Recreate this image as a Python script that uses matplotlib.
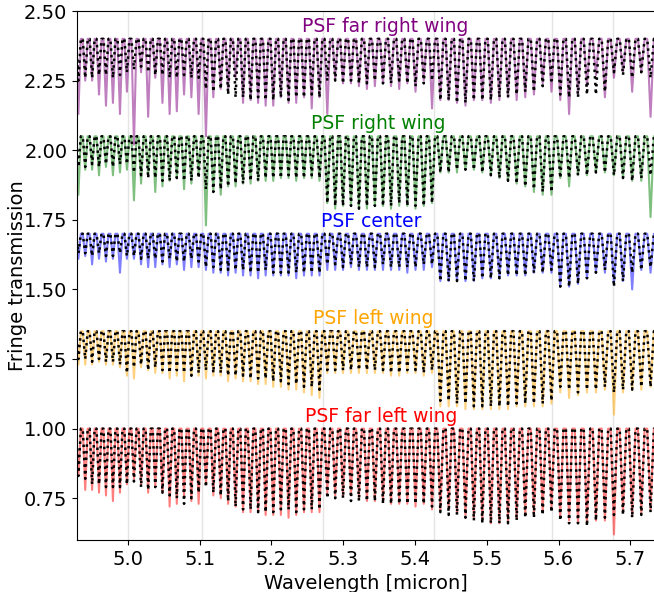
import numpy as np
import matplotlib
matplotlib.use('Agg')
import matplotlib.pyplot as plt

# fringe minima positions [micron]
lam_dips = [4.9310, 4.9405, 4.9501, 4.9597, 4.9694, 4.9791, 4.9889, 4.9986,
            5.0084, 5.0183, 5.0282, 5.0381, 5.0481, 5.0581, 5.0681, 5.0782, 5.0884, 5.0985,
            5.1087, 5.1190, 5.1293, 5.1396, 5.1500, 5.1604, 5.1709, 5.1814, 5.1919, 5.2025,
            5.2131, 5.2238, 5.2345, 5.2453, 5.2561, 5.2669,
            5.2778, 5.2888, 5.2997, 5.3108, 5.3219, 5.3330, 5.3441, 5.3554, 5.3666, 5.3780,
            5.3893, 5.4007, 5.4122, 5.4237,
            5.4353, 5.4469, 5.4585, 5.4703, 5.4820, 5.4938, 5.5057, 5.5176, 5.5296, 5.5416,
            5.5536, 5.5657, 5.5779, 5.5901,
            5.6024, 5.6147, 5.6271, 5.6396, 5.6521, 5.6646,
            5.6772, 5.6898, 5.7026, 5.7153, 5.7282, 5.7411]

# order boundaries (grey vertical lines)
order_edges = [5.0, 5.103, 5.272, 5.427, 5.591, 5.676]

# dip transmission values, model (m) and measured (d)
m_far_right = [0.85, 0.86, 0.86, 0.87, 0.87, 0.86, 0.87, 0.88,
               0.89, 0.90, 0.88, 0.87, 0.87, 0.86, 0.86, 0.87, 0.86, 0.86,
               0.82, 0.81, 0.82, 0.80, 0.79, 0.79, 0.78, 0.79, 0.78, 0.78, 0.79, 0.78, 0.79, 0.79, 0.80, 0.79,
               0.85, 0.85, 0.84, 0.85, 0.84, 0.84, 0.85, 0.84, 0.84, 0.85, 0.84, 0.83, 0.84, 0.85,
               0.78, 0.78, 0.77, 0.77, 0.78, 0.78, 0.78, 0.79, 0.79, 0.80, 0.81, 0.81, 0.83, 0.85,
               0.80, 0.79, 0.79, 0.80, 0.80, 0.81,
               0.88, 0.87, 0.86, 0.88, 0.86, 0.87]
d_far_right = [0.73, 0.85, 0.85, 0.80, 0.76, 0.77, 0.73, 0.81,
               0.62, 0.88, 0.72, 0.86, 0.77, 0.73, 0.74, 0.80, 0.79, 0.73,
               0.65, 0.79, 0.82, 0.81, 0.86, 0.77, 0.78, 0.77, 0.76, 0.76, 0.79, 0.77, 0.77, 0.79, 0.75, 0.79,
               0.73, 0.86, 0.84, 0.84, 0.83, 0.82, 0.83, 0.84, 0.83, 0.82, 0.84, 0.81, 0.85, 0.75,
               0.78, 0.78, 0.77, 0.76, 0.78, 0.78, 0.77, 0.78, 0.79, 0.78, 0.79, 0.80, 0.84, 0.81,
               0.78, 0.73, 0.80, 0.83, 0.87, 0.79,
               0.86, 0.88, 0.81, 0.88, 0.72, 0.86]

m_right = [0.89, 0.89, 0.90, 0.89, 0.90, 0.89, 0.90, 0.90,
           0.87, 0.86, 0.85, 0.85, 0.84, 0.84, 0.85, 0.84, 0.84, 0.85,
           0.81, 0.80, 0.81, 0.82, 0.83, 0.83, 0.84, 0.84, 0.85, 0.85, 0.85, 0.86, 0.85, 0.85, 0.86, 0.85,
           0.76, 0.75, 0.75, 0.75, 0.74, 0.75, 0.75, 0.75, 0.75, 0.76, 0.75, 0.75, 0.75, 0.76,
           0.87, 0.87, 0.88, 0.88, 0.88, 0.87, 0.86, 0.85, 0.84, 0.83, 0.82, 0.81, 0.80, 0.80,
           0.85, 0.85, 0.86, 0.86, 0.87, 0.87,
           0.86, 0.85, 0.84, 0.85, 0.86, 0.86]
d_right = [0.79, 0.88, 0.88, 0.86, 0.89, 0.86, 0.87, 0.88,
           0.77, 0.83, 0.86, 0.80, 0.82, 0.84, 0.85, 0.81, 0.83, 0.86,
           0.68, 0.80, 0.79, 0.82, 0.82, 0.83, 0.83, 0.84, 0.84, 0.84, 0.85, 0.85, 0.84, 0.85, 0.85, 0.84,
           0.76, 0.74, 0.75, 0.75, 0.74, 0.74, 0.75, 0.75, 0.74, 0.75, 0.75, 0.74, 0.75, 0.76,
           0.87, 0.87, 0.87, 0.88, 0.88, 0.87, 0.86, 0.85, 0.84, 0.83, 0.82, 0.80, 0.79, 0.79,
           0.85, 0.82, 0.86, 0.86, 0.87, 0.87,
           0.86, 0.85, 0.84, 0.84, 0.71, 0.86]

m_center = [0.93, 0.93, 0.92, 0.93, 0.92, 0.92, 0.93, 0.92,
            0.92, 0.91, 0.91, 0.91, 0.90, 0.91, 0.90, 0.90, 0.91, 0.90,
            0.88, 0.88, 0.87, 0.87, 0.87, 0.87, 0.86, 0.86, 0.87, 0.86, 0.86, 0.86, 0.86, 0.86, 0.86, 0.86,
            0.89, 0.89, 0.88, 0.89, 0.88, 0.88, 0.88, 0.89, 0.88, 0.88, 0.88, 0.88, 0.89, 0.89,
            0.83, 0.83, 0.83, 0.83, 0.83, 0.84, 0.84, 0.84, 0.85, 0.85, 0.85, 0.86, 0.86, 0.87,
            0.81, 0.81, 0.82, 0.84, 0.86, 0.87,
            0.81, 0.83, 0.86, 0.87, 0.88, 0.88]
d_center = [0.91, 0.92, 0.89, 0.91, 0.90, 0.91, 0.86, 0.91,
            0.91, 0.89, 0.88, 0.88, 0.89, 0.88, 0.89, 0.87, 0.88, 0.88,
            0.87, 0.86, 0.86, 0.85, 0.86, 0.85, 0.85, 0.84, 0.85, 0.85, 0.85, 0.85, 0.84, 0.85, 0.85, 0.85,
            0.87, 0.87, 0.87, 0.88, 0.87, 0.87, 0.87, 0.87, 0.87, 0.87, 0.86, 0.87, 0.87, 0.88,
            0.83, 0.83, 0.83, 0.83, 0.83, 0.84, 0.84, 0.84, 0.85, 0.85, 0.85, 0.86, 0.86, 0.86,
            0.81, 0.81, 0.82, 0.84, 0.86, 0.86,
            0.82, 0.83, 0.80, 0.87, 0.86, 0.88]

m_left = [0.90, 0.90, 0.89, 0.90, 0.89, 0.89, 0.88, 0.85,
          0.87, 0.88, 0.86, 0.87, 0.86, 0.85, 0.86, 0.85, 0.84, 0.85,
          0.86, 0.85, 0.85, 0.84, 0.84, 0.84, 0.83, 0.83, 0.83, 0.82, 0.82, 0.81, 0.81, 0.80, 0.80, 0.79,
          0.86, 0.86, 0.86, 0.86, 0.86, 0.86, 0.86, 0.86, 0.85, 0.85, 0.86, 0.86, 0.85, 0.86,
          0.75, 0.75, 0.74, 0.74, 0.73, 0.73, 0.73, 0.73, 0.73, 0.74, 0.74, 0.74, 0.74, 0.75,
          0.80, 0.79, 0.78, 0.79, 0.79, 0.80,
          0.78, 0.79, 0.79, 0.80, 0.80, 0.80]
d_left = [0.88, 0.88, 0.88, 0.89, 0.88, 0.88, 0.87, 0.84,
          0.83, 0.87, 0.86, 0.85, 0.85, 0.83, 0.84, 0.82, 0.84, 0.84,
          0.83, 0.84, 0.84, 0.82, 0.83, 0.82, 0.82, 0.81, 0.81, 0.80, 0.80, 0.79, 0.79, 0.78, 0.77, 0.76,
          0.85, 0.85, 0.85, 0.85, 0.85, 0.85, 0.85, 0.85, 0.84, 0.84, 0.85, 0.85, 0.84, 0.85,
          0.73, 0.73, 0.73, 0.72, 0.72, 0.72, 0.72, 0.72, 0.72, 0.73, 0.73, 0.73, 0.73, 0.74,
          0.78, 0.76, 0.77, 0.78, 0.78, 0.79,
          0.70, 0.78, 0.79, 0.79, 0.80, 0.80]

m_far_left = [0.83, 0.82, 0.80, 0.80, 0.79, 0.79, 0.79, 0.80,
              0.81, 0.79, 0.78, 0.79, 0.77, 0.76, 0.75, 0.73, 0.75, 0.77,
              0.79, 0.77, 0.76, 0.74, 0.72, 0.71, 0.71, 0.70, 0.70, 0.70, 0.71, 0.71, 0.70, 0.71, 0.71, 0.71,
              0.75, 0.75, 0.75, 0.74, 0.74, 0.74, 0.74, 0.73, 0.73, 0.73, 0.73, 0.73, 0.73, 0.72,
              0.70, 0.69, 0.69, 0.68, 0.67, 0.66, 0.66, 0.66, 0.66, 0.67, 0.68, 0.68, 0.69, 0.70,
              0.67, 0.66, 0.66, 0.65, 0.67, 0.68,
              0.69, 0.69, 0.68, 0.69, 0.70, 0.70]
d_far_left = [0.83, 0.78, 0.78, 0.77, 0.76, 0.74, 0.77, 0.80,
              0.82, 0.80, 0.77, 0.79, 0.77, 0.72, 0.73, 0.76, 0.74, 0.73,
              0.80, 0.76, 0.75, 0.73, 0.72, 0.70, 0.70, 0.70, 0.69, 0.69, 0.69, 0.68, 0.69, 0.70, 0.70, 0.70,
              0.77, 0.76, 0.76, 0.76, 0.75, 0.74, 0.74, 0.74, 0.73, 0.73, 0.73, 0.72, 0.73, 0.71,
              0.71, 0.71, 0.70, 0.69, 0.68, 0.67, 0.66, 0.66, 0.67, 0.68, 0.69, 0.69, 0.70, 0.72,
              0.68, 0.67, 0.66, 0.66, 0.67, 0.67,
              0.62, 0.70, 0.69, 0.70, 0.71, 0.70]

labels = ['PSF far right wing', 'PSF right wing', 'PSF center', 'PSF left wing', 'PSF far left wing']
label_x = [5.358, 5.349, 5.339, 5.342, 5.353]
colors = ['purple', 'green', 'blue', 'orange', 'red']
offsets = [1.4, 1.05, 0.7, 0.35, 0.0]
models = [m_far_right, m_right, m_center, m_left, m_far_left]
datas = [d_far_right, d_right, d_center, d_left, d_far_left]


def fringe_curve(lam, dips, frac=0.36):
    # each minimum is a narrow V, flat at T=1 between minima
    lam = np.asarray(lam)
    step = np.gradient(lam)
    x = np.column_stack([lam - frac * step, lam, lam + frac * step]).ravel()
    y = np.column_stack([np.ones(len(lam)), dips, np.ones(len(lam))]).ravel()
    return x, y


fig = plt.figure(figsize=(6.54, 5.92), dpi=100)
ax = fig.add_axes([0.1177, 0.0878, 0.8823, 0.8936])

for e in order_edges:
    ax.axvline(e, color='lightgray', lw=1, alpha=0.6, zorder=0)

for lab, lx, col, off, m, d in zip(labels, label_x, colors, offsets, models, datas):
    x, y = fringe_curve(lam_dips, d)
    ax.plot(x, y + off, '-', color=col, alpha=0.5, lw=1.5)
    x, y = fringe_curve(lam_dips, m)
    ax.plot(x, y + off, ':', color='k', lw=1.8)
    ax.text(lx, off + 1.045, lab, color=col, fontsize=13.5, ha='center', va='center')

ax.set_xlim(4.929, 5.733)
ax.set_ylim(0.6, 2.5)
ax.set_xticks([5.0, 5.1, 5.2, 5.3, 5.4, 5.5, 5.6, 5.7])
ax.set_yticks([0.75, 1.0, 1.25, 1.5, 1.75, 2.0, 2.25, 2.5])
ax.yaxis.set_major_formatter(matplotlib.ticker.FormatStrFormatter('%.2f'))
ax.tick_params(labelsize=14)
ax.spines['right'].set_visible(False)
ax.set_xlabel('Wavelength [micron]', fontsize=14)
ax.set_ylabel('Fringe transmission', fontsize=14, labelpad=-2)

fig.savefig('out.png', dpi=100)
